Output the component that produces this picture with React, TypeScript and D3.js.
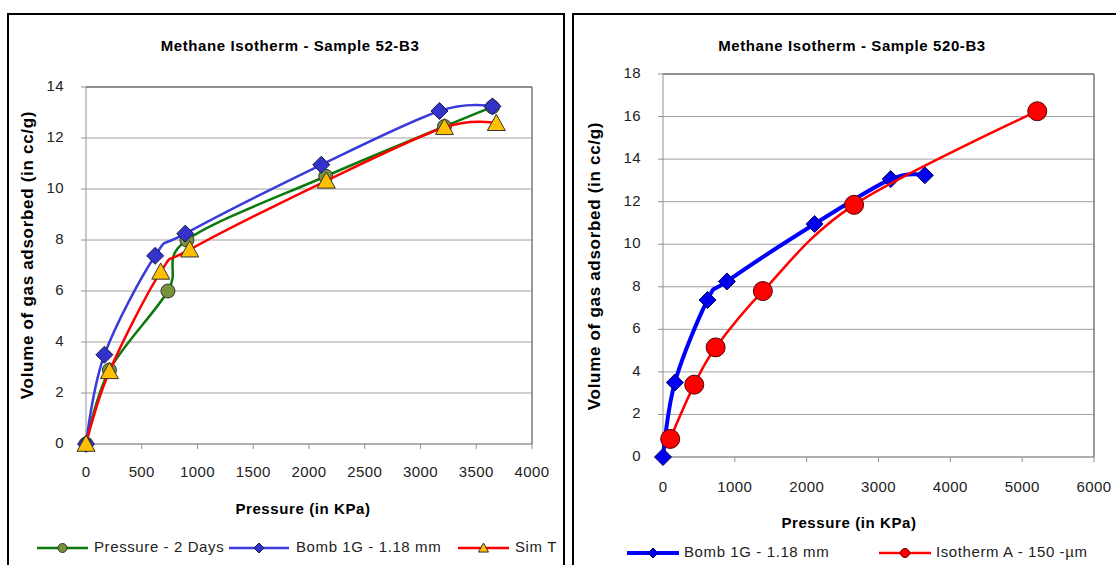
import React from "react";
import * as d3 from "d3";

// left chart: Sample 52-B3
const leftTitle = "Methane Isotherm - Sample 52-B3";
const leftXTicks = [0, 500, 1000, 1500, 2000, 2500, 3000, 3500, 4000];
const leftYTicks = [0, 2, 4, 6, 8, 10, 12, 14];

const pressure2DaysX = [0, 210, 735, 905, 2150, 3215, 3645];
const pressure2DaysY = [0, 2.9, 6.0, 8.0, 10.5, 12.45, 13.22];

const bombX = [0, 165, 620, 890, 2110, 3170, 3645];
const bombY = [0, 3.5, 7.38, 8.25, 10.95, 13.06, 13.24];

const simTX = [0, 210, 670, 930, 2155, 3215, 3680];
const simTY = [0, 2.85, 6.75, 7.62, 10.32, 12.42, 12.58];

// right chart: Sample 520-B3
const rightTitle = "Methane Isotherm - Sample 520-B3";
const rightXTicks = [0, 1000, 2000, 3000, 4000, 5000, 6000];
const rightYTicks = [0, 2, 4, 6, 8, 10, 12, 14, 16, 18];

const isothermAX = [100, 435, 733, 1390, 2660, 5210];
const isothermAY = [0.85, 3.4, 5.15, 7.8, 11.85, 16.25];

const FONT = "'Liberation Sans', Arial, sans-serif";

type Series = {
  name: string;
  xs: number[];
  ys: number[];
  color: string;
  width: number;
  marker: "circle" | "diamond" | "triangle";
  fill: string;
  stroke: string;
  size: number;
};

type PanelProps = {
  title: string;
  box: [number, number, number, number];
  plot: { left: number; right: number; top: number; bottom: number };
  xMax: number;
  yMax: number;
  xTicks: number[];
  yTicks: number[];
  series: Series[];
  titleX: number;
  titleY: number;
  yLabelX: number;
  yLabelCY: number;
  xTickY: number;
  xLabelX: number;
  xLabelY: number;
  legendY: number;
  legend: { x1: number; x2: number; textX: number }[];
};

function Marker({ kind, x, y, size, fill, stroke }: any) {
  if (kind === "circle") {
    return <circle cx={x} cy={y} r={size} fill={fill} stroke={stroke} strokeWidth={1} />;
  }
  if (kind === "diamond") {
    const p = [[x, y - size], [x + size, y], [x, y + size], [x - size, y]];
    return <polygon points={p.map(d => d.join(",")).join(" ")} fill={fill} stroke={stroke} strokeWidth={1} />;
  }
  const h = size * 1.8;
  const p = [[x, y - h * 0.55], [x + size, y + h * 0.45], [x - size, y + h * 0.45]];
  return <polygon points={p.map(d => d.join(",")).join(" ")} fill={fill} stroke={stroke} strokeWidth={1} />;
}

function Panel(props: PanelProps) {
  const { plot, box } = props;
  const x = d3.scaleLinear().domain([0, props.xMax]).range([plot.left, plot.right]);
  const y = d3.scaleLinear().domain([0, props.yMax]).range([plot.bottom, plot.top]);
  // excel-style smoothing = uniform catmull-rom
  const line = d3.line<[number, number]>()
    .x(d => x(d[0]))
    .y(d => y(d[1]))
    .curve(d3.curveCardinal.tension(0));

  return (
    <g>
      <rect x={box[0]} y={box[1]} width={box[2]} height={box[3]} fill="#fff" stroke="#000" strokeWidth={2} />
      <text x={props.titleX} y={props.titleY} textAnchor="middle" fontSize={15} fontWeight="bold" fontFamily={FONT} letterSpacing={0.6} dominantBaseline="middle">
        {props.title}
      </text>

      {/* gridlines */}
      {props.yTicks.map(t => (
        <line key={"g" + t} x1={plot.left} x2={plot.right} y1={y(t)} y2={y(t)} stroke="#a0a0a0" strokeWidth={1} />
      ))}
      <line x1={plot.left} x2={plot.right} y1={plot.top} y2={plot.top} stroke="#7a7a7a" strokeWidth={1.5} />
      <line x1={plot.right} x2={plot.right} y1={plot.top} y2={plot.bottom} stroke="#7a7a7a" strokeWidth={1.5} />
      <line x1={plot.left} x2={plot.left} y1={plot.top} y2={plot.bottom} stroke="#909090" strokeWidth={1} />
      <line x1={plot.left} x2={plot.right} y1={plot.bottom} y2={plot.bottom} stroke="#909090" strokeWidth={1} />

      {/* ticks */}
      {props.yTicks.map(t => (
        <g key={"y" + t}>
          <line x1={plot.left - 5} x2={plot.left} y1={y(t)} y2={y(t)} stroke="#909090" />
          <text x={plot.left - 22} y={y(t)} textAnchor="end" dominantBaseline="middle" fontSize={15} letterSpacing={0.4} fontFamily={FONT} fill="#222">{t}</text>
        </g>
      ))}
      {props.xTicks.map(t => (
        <g key={"x" + t}>
          <line x1={x(t)} x2={x(t)} y1={plot.bottom} y2={plot.bottom + 5} stroke="#909090" />
          <text x={x(t)} y={props.xTickY} textAnchor="middle" dominantBaseline="middle" fontSize={15} letterSpacing={0.4} fontFamily={FONT} fill="#222">{t}</text>
        </g>
      ))}

      <text transform={`translate(${props.yLabelX},${props.yLabelCY}) rotate(-90)`} textAnchor="middle" dominantBaseline="middle" fontSize={17} fontWeight="bold" letterSpacing={0.7} fontFamily={FONT}>
        Volume of gas adsorbed (in cc/g)
      </text>
      <text x={props.xLabelX} y={props.xLabelY} textAnchor="middle" dominantBaseline="middle" fontSize={15} fontWeight="bold" letterSpacing={0.6} fontFamily={FONT}>
        Pressure (in KPa)
      </text>

      {/* series */}
      {props.series.map(s => {
        const pts = s.xs.map((v, i) => [v, s.ys[i]] as [number, number]);
        return (
          <g key={s.name}>
            <path d={line(pts) || ""} fill="none" stroke={s.color} strokeWidth={s.width} strokeLinejoin="round" />
            {pts.map((p, i) => (
              <Marker key={i} kind={s.marker} x={x(p[0])} y={y(p[1])} size={s.size} fill={s.fill} stroke={s.stroke} />
            ))}
          </g>
        );
      })}

      {/* legend */}
      {props.series.map((s, i) => {
        const L = props.legend[i];
        return (
          <g key={"l" + s.name}>
            <line x1={L.x1} x2={L.x2} y1={props.legendY} y2={props.legendY} stroke={s.color} strokeWidth={s.width} />
            <Marker kind={s.marker} x={(L.x1 + L.x2) / 2} y={props.legendY} size={s.marker === "circle" ? 4.5 : 5} fill={s.fill} stroke={s.stroke} />
            <text x={L.textX} y={props.legendY} dominantBaseline="middle" fontSize={15} letterSpacing={0.6} fontFamily={FONT} fill="#222">{s.name}</text>
          </g>
        );
      })}
    </g>
  );
}

export default function App() {
  const leftSeries: Series[] = [
    { name: "Pressure - 2 Days", xs: pressure2DaysX, ys: pressure2DaysY, color: "#0b7a0b", width: 2.5, marker: "circle", fill: "#77933c", stroke: "#333", size: 7 },
    { name: "Bomb 1G - 1.18 mm", xs: bombX, ys: bombY, color: "#3b3bdb", width: 2.5, marker: "diamond", fill: "#3333cc", stroke: "#1a1a4a", size: 8.5 },
    { name: "Sim T", xs: simTX, ys: simTY, color: "#ff0000", width: 2.5, marker: "triangle", fill: "#ffc000", stroke: "#333", size: 9 },
  ];
  const rightSeries: Series[] = [
    { name: "Bomb 1G - 1.18 mm", xs: bombX, ys: bombY, color: "#0000ff", width: 4, marker: "diamond", fill: "#0000ee", stroke: "#000060", size: 8.5 },
    { name: "Isotherm A - 150 -\u00b5m", xs: isothermAX, ys: isothermAY, color: "#ff0000", width: 2.5, marker: "circle", fill: "#ff0000", stroke: "#500", size: 9.5 },
  ];

  return (
    <svg width={1116} height={565} style={{ position: "absolute", left: 0, top: 0, background: "#fff" }}>
      <rect width={1116} height={565} fill="#fff" />
      <Panel
        title={leftTitle}
        box={[8, 14, 556, 580]}
        plot={{ left: 86, right: 532, top: 87, bottom: 444 }}
        xMax={4000}
        yMax={14}
        xTicks={leftXTicks}
        yTicks={leftYTicks}
        series={leftSeries}
        titleX={290}
        titleY={47}
        yLabelX={29}
        yLabelCY={255}
        xTickY={473}
        xLabelX={303}
        xLabelY={510}
        legendY={548}
        legend={[
          { x1: 37, x2: 88, textX: 94 },
          { x1: 229, x2: 289, textX: 296 },
          { x1: 458, x2: 509, textX: 515 },
        ]}
      />
      <Panel
        title={rightTitle}
        box={[573, 14, 560, 580]}
        plot={{ left: 663, right: 1094, top: 74, bottom: 457 }}
        xMax={6000}
        yMax={18}
        xTicks={rightXTicks}
        yTicks={rightYTicks}
        series={rightSeries}
        titleX={852}
        titleY={47}
        yLabelX={596}
        yLabelCY={266}
        xTickY={488}
        xLabelX={849}
        xLabelY={524}
        legendY={553}
        legend={[
          { x1: 627, x2: 679, textX: 684 },
          { x1: 879, x2: 931, textX: 936 },
        ]}
      />
    </svg>
  );
}
